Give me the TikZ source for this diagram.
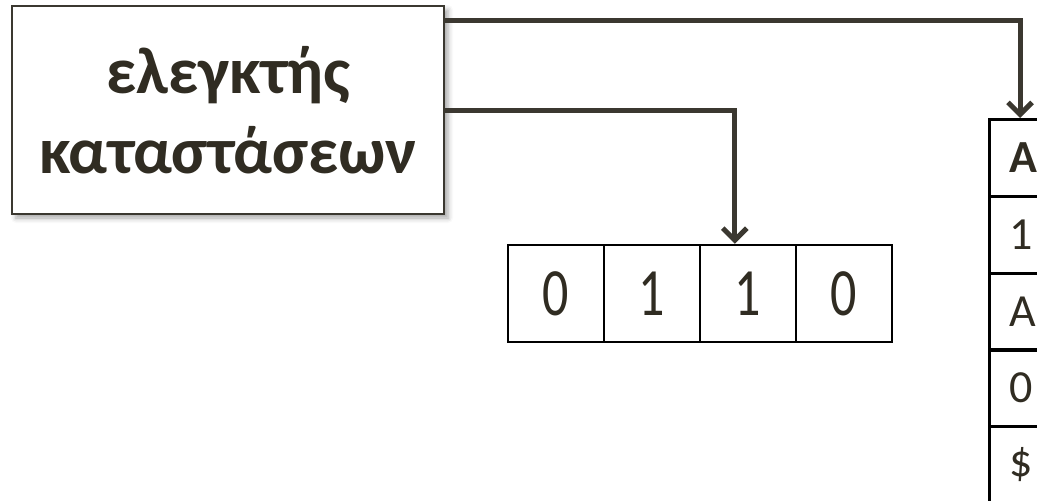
\documentclass[tikz,border=0pt]{standalone}
\usepackage{fontspec}
\setmainfont{Carlito}
\usetikzlibrary{arrows.meta,shadows.blur,calc}
\definecolor{ink}{HTML}{3B3830}
\definecolor{txt}{HTML}{302C22}
\begin{document}
\begin{tikzpicture}[x=1pt,y=-1pt,
  conn/.style={draw=ink,line width=5pt,-{Straight Barb[length=12pt,width=24pt]}},
  ctrlbox/.style={draw=ink,line width=2.5pt,fill=white,minimum width=432pt,minimum height=208pt,
    blur shadow={shadow xshift=4pt,shadow yshift=-4pt,shadow blur radius=5pt,shadow opacity=35},
    align=center,text=txt,font=\bfseries\fontsize{66}{80}\selectfont},
  tapecell/.style={draw=black,line width=2.5pt,minimum width=96pt,minimum height=97pt,inner sep=0pt,
    text=txt,font=\fontsize{52}{52}\selectfont},
  stackcell/.style={draw=black,line width=2.5pt,anchor=north west,minimum height=77pt,inner ysep=0pt,
    inner xsep=20pt,text width=60pt,align=left,text=txt,font=\fontsize{46}{46}\selectfont}
]
\useasboundingbox (0,0) rectangle (1037,501);
\node[ctrlbox] (ctrl) at (228,110) {ελεγκτής\\καταστάσεων};
% tape
\node[tapecell] (t1) at (556,293.5) {\scalebox{1}[1.3]{0}};
\node[tapecell] (t2) at (652,293.5) {\scalebox{1}[1.3]{1}};
\node[tapecell] (t3) at (748,293.5) {\scalebox{1}[1.3]{1}};
\node[tapecell] (t4) at (844,293.5) {\scalebox{1}[1.3]{0}};
% stack
\node[stackcell] (s1) at (988,118) {\textbf{A}};
\node[stackcell] (s2) at (988,195) {1};
\node[stackcell] (s3) at (988,272) {A};
\node[stackcell] (s4) at (988,348) {0};
\node[stackcell] (s5) at (988,425) {\$};
% connectors
\coordinate (tipA) at ($(s1.north west)+(32,0)$);
\coordinate (tipB) at ($(t3.north west)+(36,0)$);
\draw[conn] ($(ctrl.north east)+(0,16)$) -| (tipA);
\draw[conn] (ctrl.east) -| (tipB);
\end{tikzpicture}
\end{document}
